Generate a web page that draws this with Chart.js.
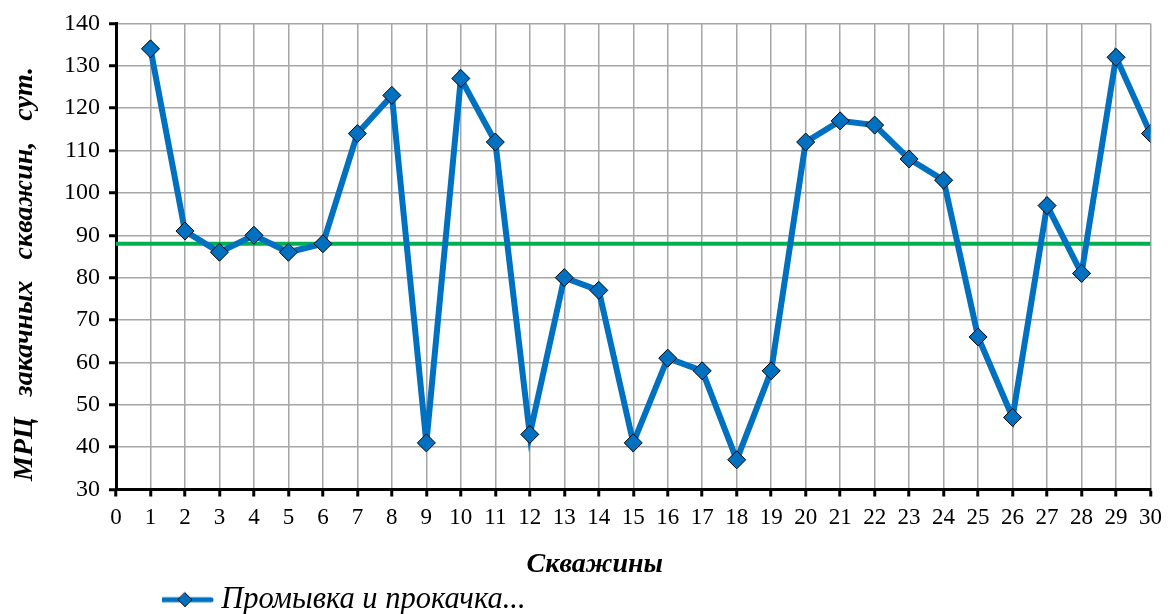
<!DOCTYPE html>
<html>
<head>
<meta charset="utf-8">
<script src="https://cdn.jsdelivr.net/npm/chart.js@4.4.1/dist/chart.umd.min.js"></script>
<style>
  html, body { margin: 0; padding: 0; background: #fff; }
  #wrap { width: 1170px; height: 614px; }
</style>
</head>
<body>
<div id="wrap"><canvas id="chart" width="1170" height="614"></canvas></div>
<script>
const wells = [1, 2, 3, 4, 5, 6, 7, 8, 9, 10, 11, 12, 13, 14, 15, 16, 17, 18, 19, 20, 21, 22, 23, 24, 25, 26, 27, 28, 29, 30];
const mrcDays = [134, 91, 86, 90, 86, 88, 114, 123, 41, 127, 112, 43, 80, 77, 41, 61, 58, 37, 58, 112, 117, 116, 108, 103, 66, 47, 97, 81, 132, 114];
const avgLevel = 88;
const avgRange = [0, 30];
const seriesName = "Промывка и прокачка...";
const xTitle = "Скважины";
const yTitle = "МРЦ   закачных   скважин,   сут.";

const blue = "#0070c0";
const green = "#00b050";
const serif = "'Liberation Serif', 'Times New Roman', serif";

// legend swatch: line with a diamond in the middle
function makeSwatch() {
  const c = document.createElement("canvas");
  c.width = 58;
  c.height = 18;
  const ctx = c.getContext("2d");
  ctx.strokeStyle = blue;
  ctx.lineWidth = 5;
  ctx.lineCap = "round";
  ctx.beginPath();
  ctx.moveTo(3, 9);
  ctx.lineTo(55, 9);
  ctx.stroke();
  ctx.beginPath();
  ctx.moveTo(29, 2);
  ctx.lineTo(36, 9);
  ctx.lineTo(29, 16);
  ctx.lineTo(22, 9);
  ctx.closePath();
  ctx.fillStyle = blue;
  ctx.fill();
  ctx.strokeStyle = "#000";
  ctx.lineWidth = 1;
  ctx.stroke();
  return c;
}
const swatch = makeSwatch();

// push the legend right and a bit down, like in the original
const shiftLegend = {
  id: "shiftLegend",
  afterLayout(chart) {
    chart.legend.left += 162;
    chart.legend.top += 11;
    chart.legend.bottom += 11;
  }
};

new Chart(document.getElementById("chart"), {
  type: "line",
  data: {
    datasets: [
      {
        label: seriesName,
        data: wells.map((w, i) => ({ x: w, y: mrcDays[i] })),
        borderColor: blue,
        backgroundColor: blue,
        borderWidth: 6,
        pointStyle: "rectRot",
        pointRadius: 9,
        pointBorderColor: "#000",
        pointBorderWidth: 1,
        pointBackgroundColor: blue,
        tension: 0,
        order: 1
      },
      {
        label: "avg",
        data: avgRange.map(x => ({ x: x, y: avgLevel })),
        borderColor: green,
        borderWidth: 4,
        pointRadius: 0,
        order: 2
      }
    ]
  },
  options: {
    responsive: false,
    animation: false,
    layout: { padding: { top: 15, right: 19, left: 0, bottom: 0 } },
    plugins: {
      tooltip: { enabled: false },
      legend: {
        position: "bottom",
        align: "start",
        labels: {
          font: { family: serif, size: 30.5, style: "italic" },
          color: "#000",
          usePointStyle: true,
          pointStyleWidth: 42,
          padding: 2,
          generateLabels: chart => [{
            text: seriesName,
            pointStyle: swatch,
            datasetIndex: 0,
            fillStyle: blue,
            strokeStyle: blue,
            lineWidth: 0
          }]
        }
      }
    },
    scales: {
      x: {
        type: "linear",
        min: 0,
        max: 30,
        ticks: {
          stepSize: 1,
          color: "#000",
          font: { family: serif, size: 23 },
          padding: 8,
          maxRotation: 0
        },
        grid: {
          color: "#a6a6a6",
          lineWidth: 1.5,
          tickColor: "#000",
          tickLength: 7,
          tickWidth: 3
        },
        border: { color: "#000", width: 3 },
        title: {
          display: true,
          text: xTitle + "           ",
          color: "#000",
          font: { family: serif, size: 28, style: "italic", weight: "bold" },
          padding: { top: 0, bottom: -10 }
        },
        afterFit: scale => { scale.height = 82; }
      },
      y: {
        min: 30,
        max: 140,
        ticks: {
          stepSize: 10,
          color: "#000",
          font: { family: serif, size: 24 },
          padding: 9
        },
        grid: {
          color: "#a6a6a6",
          lineWidth: 1.5,
          tickColor: "#000",
          tickLength: 7,
          tickWidth: 3
        },
        border: { color: "#000", width: 3 },
        title: {
          display: true,
          text: yTitle + "     ",
          color: "#000",
          font: { family: serif, size: 28, style: "italic", weight: "bold" },
          padding: { top: 8, bottom: 0 }
        },
        afterFit: scale => { scale.width = 116; }
      }
    }
  },
  plugins: [shiftLegend]
});
</script>
</body>
</html>
